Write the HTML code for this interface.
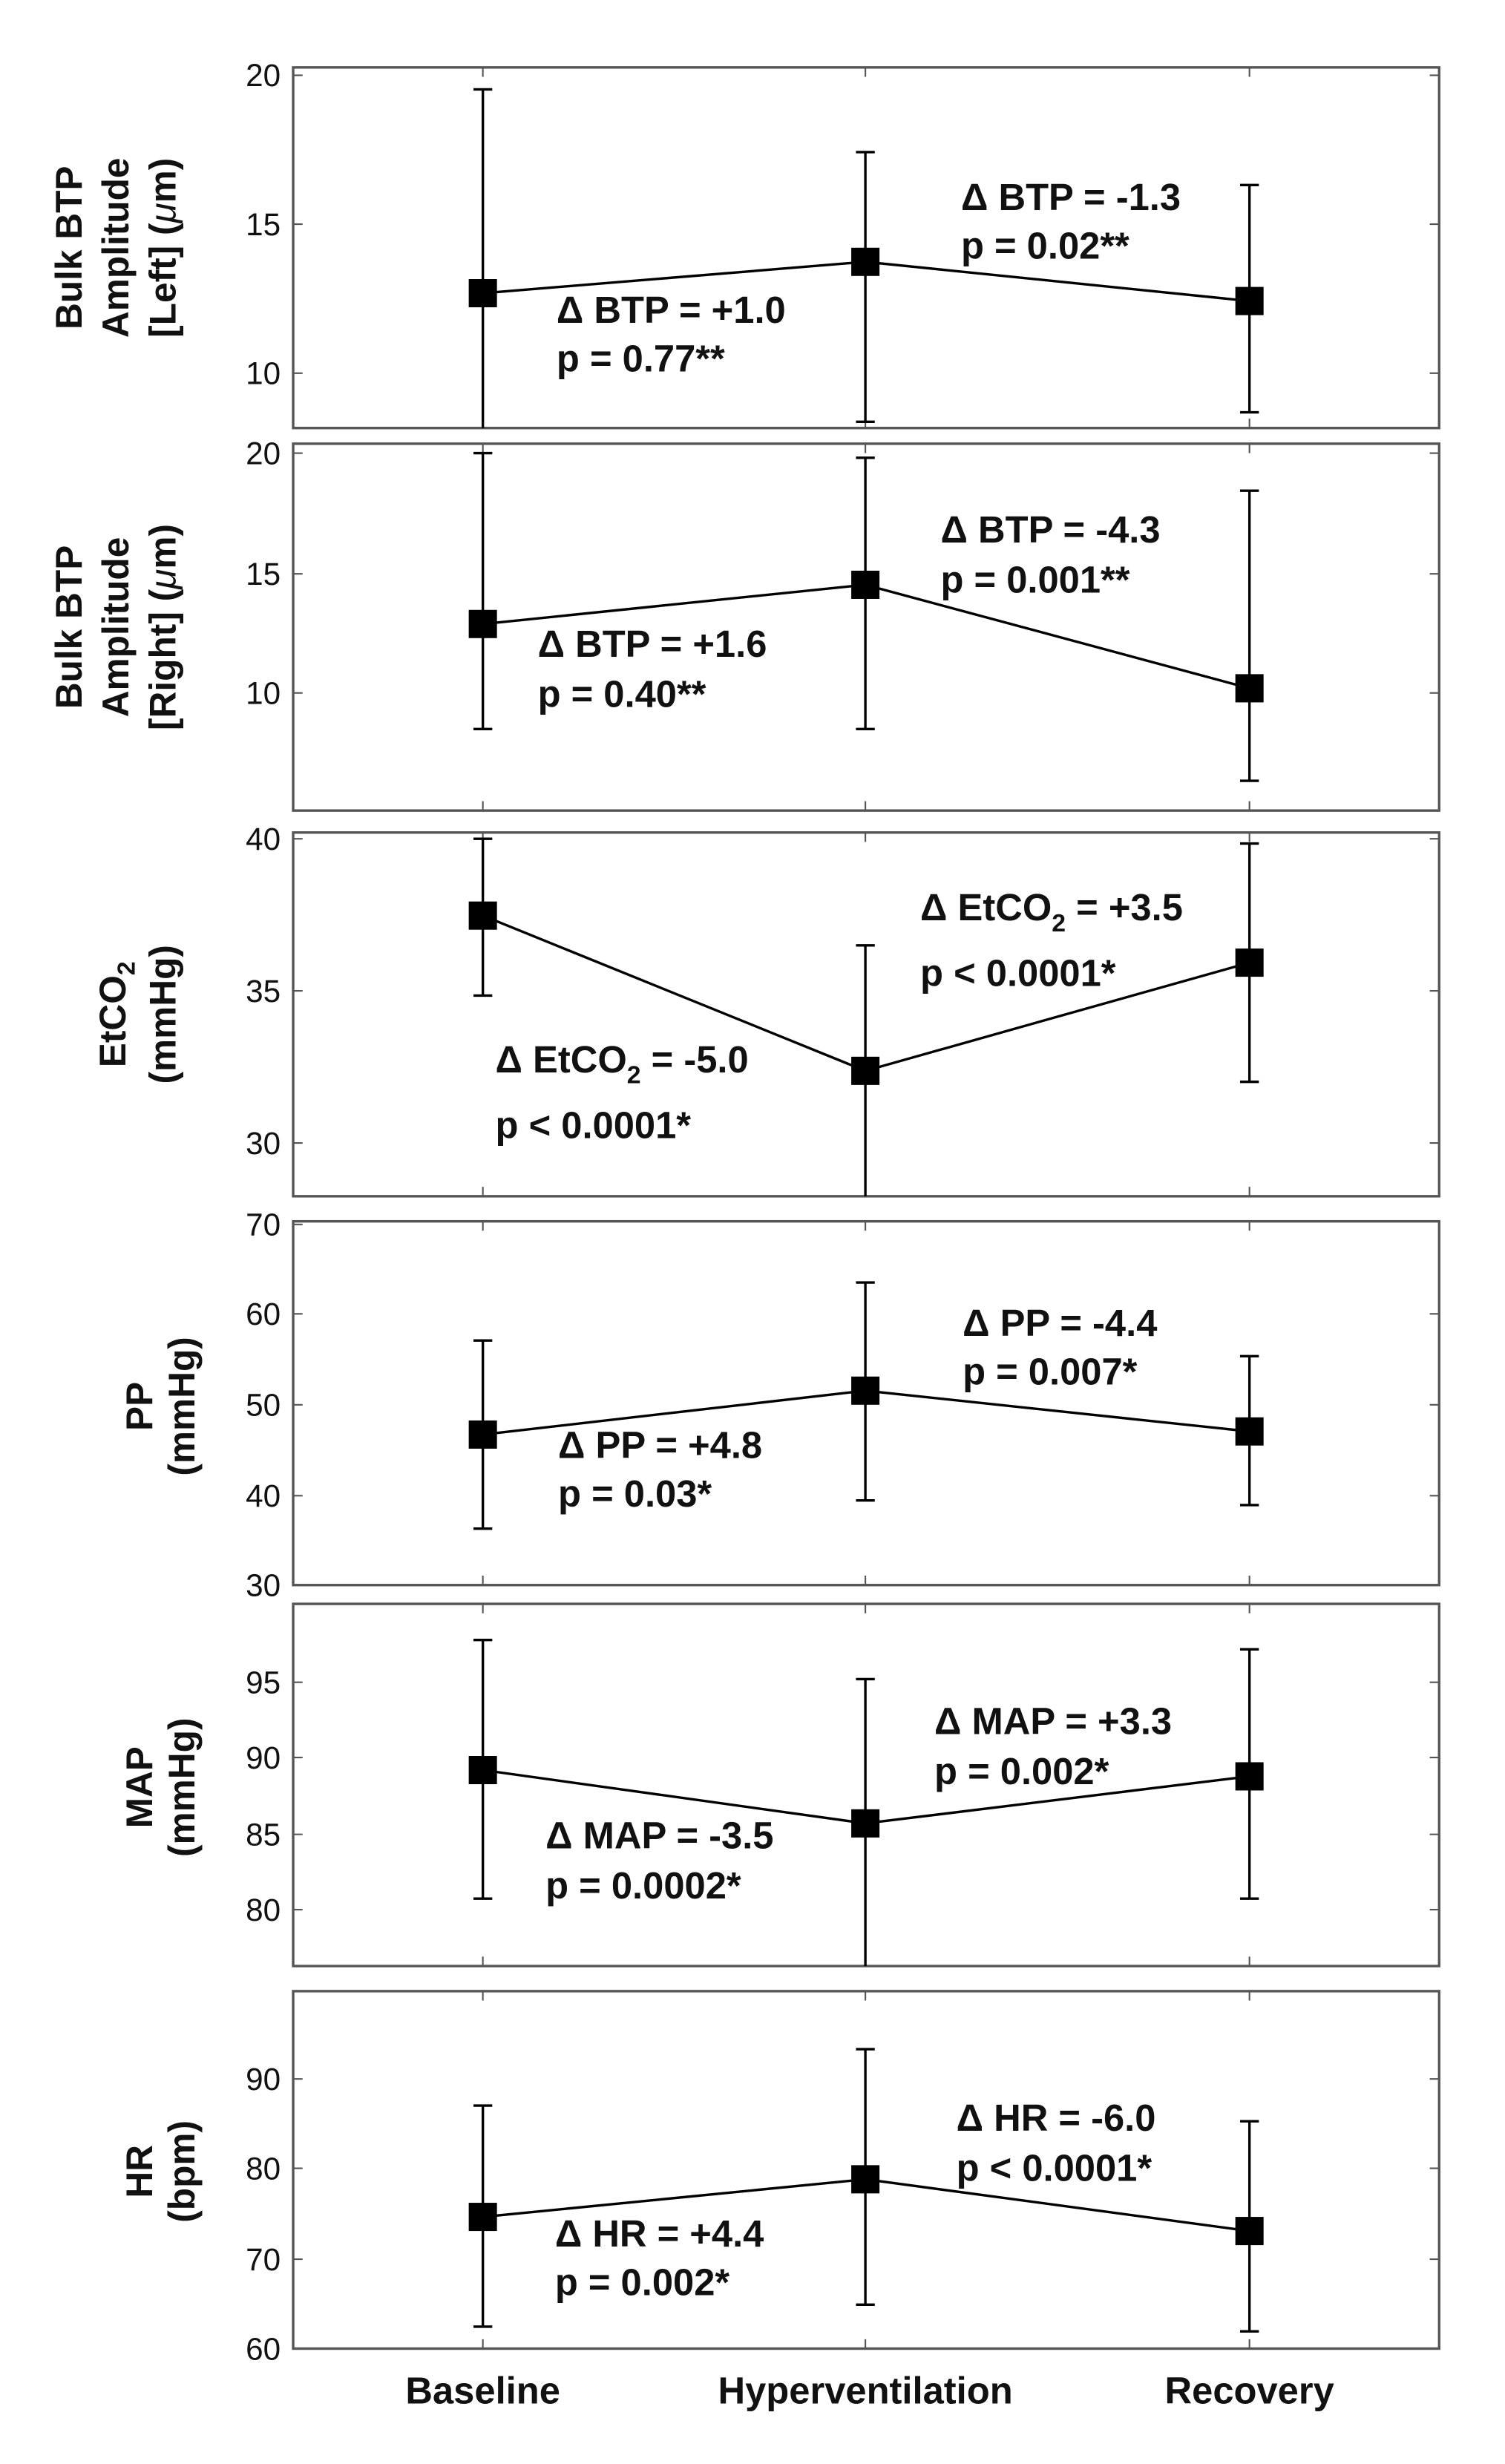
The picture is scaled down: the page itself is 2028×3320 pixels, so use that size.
<!DOCTYPE html>
<html><head><meta charset="utf-8"><style>html,body{margin:0;padding:0;background:#fff}svg{display:block}</style></head>
<body>
<svg width="2028" height="3320" viewBox="0 0 960 1571.6" preserveAspectRatio="none" xmlns="http://www.w3.org/2000/svg" font-family="Liberation Sans, sans-serif">
<g fill="none" stroke="#555" stroke-width="1.6">
<rect x="187" y="43" width="731" height="230"/>
<rect x="187" y="283" width="731" height="234"/>
<rect x="187" y="531" width="731" height="232"/>
<rect x="187" y="779" width="731" height="232"/>
<rect x="187" y="1023" width="731" height="231"/>
<rect x="187" y="1270" width="731" height="228"/>
</g>
<g stroke="#555" stroke-width="1">
<path d="M187 48h6M187 143h6M187 238h6M918 48h-6M918 143h-6M918 238h-6"/>
<path d="M187 289h6M187 366h6M187 442h6M918 289h-6M918 366h-6M918 442h-6"/>
<path d="M187 535h6M187 632h6M187 729h6M918 535h-6M918 632h-6M918 729h-6"/>
<path d="M187 781h6M187 838h6M187 896h6M187 954h6M918 838h-6M918 896h-6M918 954h-6"/>
<path d="M187 1073h6M187 1121h6M187 1170h6M187 1218h6M918 1073h-6M918 1121h-6M918 1170h-6M918 1218h-6"/>
<path d="M187 1326h6M187 1383h6M187 1441h6M918 1326h-6M918 1383h-6M918 1441h-6"/>
<path d="M308 43v6M552 43v6M797 43v6M308 273v-6M552 273v-6M797 273v-6"/>
<path d="M308 283v6M552 283v6M797 283v6M308 517v-6M552 517v-6M797 517v-6"/>
<path d="M308 531v6M552 531v6M797 531v6M308 763v-6M552 763v-6M797 763v-6"/>
<path d="M308 779v6M552 779v6M797 779v6M308 1011v-6M552 1011v-6M797 1011v-6"/>
<path d="M308 1023v6M552 1023v6M797 1023v6M308 1254v-6M552 1254v-6M797 1254v-6"/>
<path d="M308 1270v6M552 1270v6M797 1270v6M308 1498v-6M552 1498v-6M797 1498v-6"/>
</g>
<g font-size="20" text-anchor="end" fill="#111">
<text x="179" y="55">20</text><text x="179" y="150">15</text><text x="179" y="245">10</text>
<text x="179" y="296">20</text><text x="179" y="373">15</text><text x="179" y="449">10</text>
<text x="179" y="542">40</text><text x="179" y="639">35</text><text x="179" y="736">30</text>
<text x="179" y="788">70</text><text x="179" y="845">60</text><text x="179" y="903">50</text><text x="179" y="961">40</text><text x="179" y="1018">30</text>
<text x="179" y="1080">95</text><text x="179" y="1128">90</text><text x="179" y="1177">85</text><text x="179" y="1225">80</text>
<text x="179" y="1333">90</text><text x="179" y="1390">80</text><text x="179" y="1448">70</text><text x="179" y="1505">60</text>
</g>
<g stroke="#000" stroke-width="1.6" fill="none">
<path d="M308 57V273M302 57h12M552 97V269M546 97h12M546 269h12M797 118V263M791 118h12M791 263h12"/>
<path d="M308 289V465M302 289h12M302 465h12M552 292V465M546 292h12M546 465h12M797 313V498M791 313h12M791 498h12"/>
<path d="M308 535V635M302 535h12M302 635h12M552 603V763M546 603h12M797 538V690M791 538h12M791 690h12"/>
<path d="M308 855V975M302 855h12M302 975h12M552 818V957M546 818h12M546 957h12M797 865V960M791 865h12M791 960h12"/>
<path d="M308 1046V1211M302 1046h12M302 1211h12M552 1071V1254M546 1071h12M797 1052V1211M791 1052h12M791 1211h12"/>
<path d="M308 1343V1484M302 1343h12M302 1484h12M552 1307V1470M546 1307h12M546 1470h12M797 1353V1487M791 1353h12M791 1487h12"/>
<polyline points="308,187 552,167 797,192"/>
<polyline points="308,398 552,373 797,439"/>
<polyline points="308,584 552,683 797,614"/>
<polyline points="308,915 552,887 797,913"/>
<polyline points="308,1129 552,1163 797,1133"/>
<polyline points="308,1414 552,1390 797,1423"/>
</g>
<g fill="#000">
<rect x="299" y="178" width="18" height="18"/><rect x="543" y="158" width="18" height="18"/><rect x="788" y="183" width="18" height="18"/>
<rect x="299" y="389" width="18" height="18"/><rect x="543" y="364" width="18" height="18"/><rect x="788" y="430" width="18" height="18"/>
<rect x="299" y="575" width="18" height="18"/><rect x="543" y="674" width="18" height="18"/><rect x="788" y="605" width="18" height="18"/>
<rect x="299" y="906" width="18" height="18"/><rect x="543" y="878" width="18" height="18"/><rect x="788" y="904" width="18" height="18"/>
<rect x="299" y="1120" width="18" height="18"/><rect x="543" y="1154" width="18" height="18"/><rect x="788" y="1124" width="18" height="18"/>
<rect x="299" y="1405" width="18" height="18"/><rect x="543" y="1381" width="18" height="18"/><rect x="788" y="1414" width="18" height="18"/>
</g>
<g font-size="24" font-weight="bold" fill="#111">
<text x="355" y="206">Δ BTP = +1.0</text><text x="355" y="237">p = 0.77**</text>
<text x="613" y="134">Δ BTP = -1.3</text><text x="613" y="165">p = 0.02**</text>
<text x="343" y="419">Δ BTP = +1.6</text><text x="343" y="451">p = 0.40**</text>
<text x="600" y="346">Δ BTP = -4.3</text><text x="600" y="378">p = 0.001**</text>
<text x="316" y="684">Δ EtCO<tspan font-size="16" dy="7">2</tspan><tspan dy="-7"> = -5.0</tspan></text><text x="316" y="726">p &lt; 0.0001*</text>
<text x="587" y="587">Δ EtCO<tspan font-size="16" dy="7">2</tspan><tspan dy="-7"> = +3.5</tspan></text><text x="587" y="629">p &lt; 0.0001*</text>
<text x="356" y="930">Δ PP = +4.8</text><text x="356" y="961">p = 0.03*</text>
<text x="614" y="852">Δ PP = -4.4</text><text x="614" y="883">p = 0.007*</text>
<text x="348" y="1179">Δ MAP = -3.5</text><text x="348" y="1211">p = 0.0002*</text>
<text x="596" y="1106">Δ MAP = +3.3</text><text x="596" y="1138">p = 0.002*</text>
<text x="354" y="1433">Δ HR = +4.4</text><text x="354" y="1464">p = 0.002*</text>
<text x="610" y="1359">Δ HR = -6.0</text><text x="610" y="1391">p &lt; 0.0001*</text>
</g>
<g font-size="24" font-weight="bold" fill="#111" text-anchor="middle">
<text x="308" y="1533">Baseline</text><text x="552" y="1533">Hyperventilation</text><text x="797" y="1533">Recovery</text>
</g>
<g font-size="23.5" font-weight="bold" fill="#111" text-anchor="middle">
<text transform="translate(52,158) rotate(-90)">Bulk BTP</text>
<text transform="translate(82,158) rotate(-90)">Amplitude</text>
<text transform="translate(112,158) rotate(-90)">[Left] (<tspan font-style="italic" font-weight="normal">μ</tspan>m)</text>
<text transform="translate(52,400) rotate(-90)">Bulk BTP</text>
<text transform="translate(82,400) rotate(-90)">Amplitude</text>
<text transform="translate(112,400) rotate(-90)">[Right] (<tspan font-style="italic" font-weight="normal">μ</tspan>m)</text>
<text transform="translate(80,647) rotate(-90)">EtCO<tspan font-size="16" dy="6">2</tspan></text>
<text transform="translate(112,647) rotate(-90)">(mmHg)</text>
<text transform="translate(97,897) rotate(-90)">PP</text>
<text transform="translate(124,897) rotate(-90)">(mmHg)</text>
<text transform="translate(97,1140) rotate(-90)">MAP</text>
<text transform="translate(124,1140) rotate(-90)">(mmHg)</text>
<text transform="translate(97,1385) rotate(-90)">HR</text>
<text transform="translate(124,1385) rotate(-90)">(bpm)</text>
</g>
</svg>
</body></html>
